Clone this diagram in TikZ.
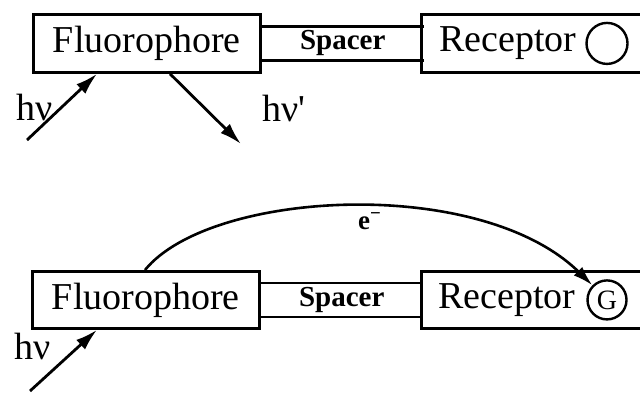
\documentclass[tikz,border=0pt]{standalone}
\usepackage{fontspec}
\setmainfont{Liberation Serif}
\usepackage{tikz}
\usetikzlibrary{positioning, arrows.meta}

\tikzset{
  unitbox/.style={draw, line width=1.4pt, inner sep=0pt, anchor=north west,
        minimum height=29pt, font=\fontsize{19}{20}\selectfont},
  spacerbox/.style={inner sep=0pt, anchor=west,
        minimum width=80.5pt, minimum height=16.5pt,
        font=\fontsize{14.5}{15}\selectfont\bfseries},
  boxtext/.style={inner sep=0pt, font=\fontsize{19}{20}\selectfont},
  site/.style={circle, draw, line width=1.2pt, inner sep=0pt,
        font=\fontsize{14}{15}\selectfont},
  photon/.style={line width=1.4pt, -{Latex[length=11pt, width=6.5pt]}},
}

\begin{document}
\begin{tikzpicture}[x=0.5pt, y=-0.5pt]
  \useasboundingbox (0,0) rectangle (640,393);
  \clip (0,0) rectangle (640,393);

  % upper row: fluorescence
  \node[unitbox, minimum width=113.5pt] (fluo1) at (32,13) {Fluorophore};
  \node[spacerbox] (spc1) at (fluo1.east) {Spacer};
  \node[unitbox, minimum width=125pt] (rec1) at (420,13) {};
  \draw[line width=1.3pt] (spc1.north west) -- (spc1.north east)
                          (spc1.south west) -- (spc1.south east);
  \node[boxtext, anchor=west] (rectxt1) at ([xshift=9.5pt]rec1.west) {Receptor};
  \node[site, minimum size=20.5pt] (site1) at ([xshift=93.5pt]rec1.west) {};

  \coordinate (in1) at (27,140);
  \coordinate (out1) at (241,144);
  \draw[photon] (in1) -- ([xshift=32.5pt]fluo1.south west);
  \draw[photon] ([xshift=69pt]fluo1.south west) -- (out1);
  \node[boxtext] (hv1) at (35,107) {hν};
  \node[boxtext] (hvp1) at (284,108) {hν\textquotesingle};

  % lower row: electron transfer to bound guest
  \node[unitbox, minimum width=113.5pt, minimum height=28.5pt] (fluo2) at (31,270) {Fluorophore};
  \node[spacerbox] (spc2) at (fluo2.east) {Spacer};
  \node[unitbox, minimum width=125pt, minimum height=28.5pt] (rec2) at (420,270) {};
  \draw[line width=1.3pt] (spc2.north west) -- (spc2.north east)
                          (spc2.south west) -- (spc2.south east);
  \node[boxtext, anchor=west] (rectxt2) at ([xshift=9pt]rec2.west) {Receptor};
  \node[site, minimum size=19.5pt] (site2) at ([xshift=93.5pt]rec2.west) {G};

  \draw[line width=1.3pt, -{Latex[length=10pt, width=6pt]}]
    ([xshift=57pt]fluo2.north west) .. controls (210,190) and (480,175) .. (site2.north west);
  \node[inner sep=0pt, font=\fontsize{13.5}{14}\selectfont\bfseries] (elec) at (370,221) {e\textsuperscript{−}};

  \coordinate (in2) at (30,391);
  \draw[photon] (in2) -- ([xshift=33pt]fluo2.south west);
  \node[boxtext] (hv2) at (33,346) {hν};
\end{tikzpicture}
\end{document}
